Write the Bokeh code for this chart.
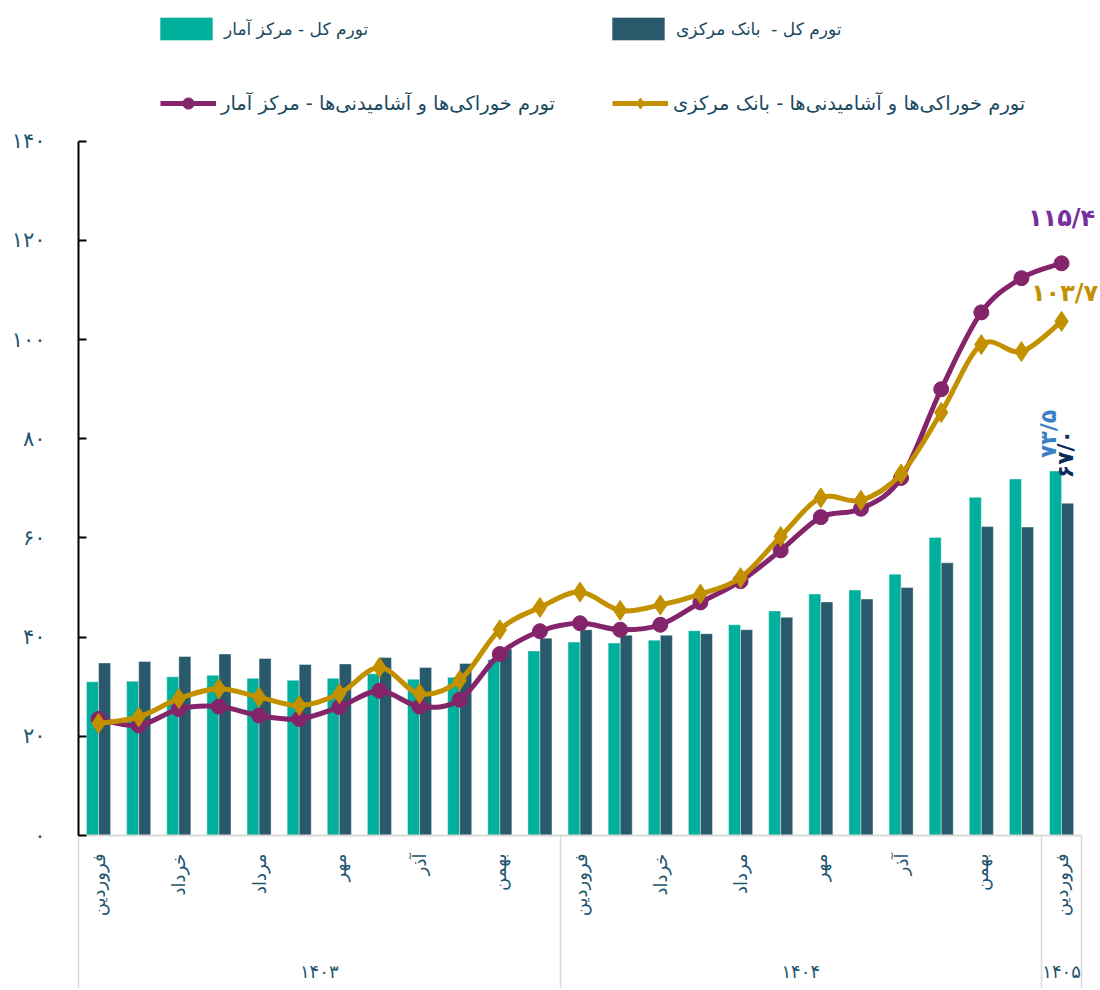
import math
from bokeh.plotting import figure
from bokeh.models import (FixedTicker, LinearAxis, Range1d, Legend, LegendItem,
                          Label, ColumnDataSource)
from bokeh.transform import dodge
from bokeh.embed import file_html
from bokeh.resources import INLINE

# ---------------- data ----------------
month_names = ["فروردین", "اردیبهشت", "خرداد", "تیر", "مرداد", "شهریور",
               "مهر", "آبان", "آذر", "دی", "بهمن", "اسفند"]
years = ["۱۴۰۳", "۱۴۰۴", "۱۴۰۵"]
months_per_year = [12, 12, 1]

# total inflation (bars)
total_sci = [31.0, 31.1, 32.0, 32.3, 31.7, 31.3, 31.7, 32.6, 31.5, 31.9, 35.5, 37.2,
             39.0, 38.8, 39.4, 41.3, 42.5, 45.3, 48.7, 49.5, 52.7, 60.1, 68.2, 71.9, 73.5]
total_cbi = [34.8, 35.1, 36.1, 36.6, 35.7, 34.5, 34.6, 35.9, 33.9, 34.7, 37.6, 39.8,
             41.5, 40.4, 40.4, 40.7, 41.5, 44.0, 47.1, 47.7, 50.0, 55.0, 62.3, 62.2, 67.0]
# food & beverages inflation (lines)
food_sci = [23.5, 22.2, 25.5, 26.0, 24.2, 23.5, 25.9, 29.2, 26.0, 27.4, 36.6, 41.2,
            42.8, 41.5, 42.5, 47.0, 51.3, 57.5, 64.2, 65.9, 72.1, 90.0, 105.5, 112.4, 115.4]
food_cbi = [22.6, 23.9, 27.6, 29.6, 27.9, 26.2, 28.6, 33.9, 28.6, 31.3, 41.5, 46.0,
            49.1, 45.4, 46.5, 48.7, 52.0, 60.3, 68.1, 67.6, 72.9, 85.3, 99.0, 97.6, 103.7]

y_ticks = [0, 20, 40, 60, 80, 100, 120, 140]

name_sci_total = "تورم کل - مرکز آمار"
name_cbi_total = "تورم کل -  بانک مرکزی"
name_sci_food = "تورم خوراکی\u200cها و آشامیدنی\u200cها - مرکز آمار"
name_cbi_food = "تورم خوراکی\u200cها و آشامیدنی\u200cها - بانک مرکزی"

# ---------------- helpers ----------------
FA = str.maketrans("0123456789.", "۰۱۲۳۴۵۶۷۸۹/")


def to_fa(s):
    return str(s).translate(FA)


n = len(total_sci)
idx = list(range(n))
period_month = []
for cnt in months_per_year:
    period_month += month_names[:cnt]

FONT = "DejaVu Sans"
TXT = "#1b4a60"
AXT = "#1e5470"
TEAL = "#00b09c"
SLATE = "#285a6b"
PURPLE = "#84256b"
GOLD = "#c39100"
GRAYL = "#d9d9d9"


def bezier_source(ys):
    xs = idx
    d = dict(x0=[], y0=[], x1=[], y1=[], cx0=[], cy0=[], cx1=[], cy1=[])
    for i in range(n - 1):
        a, b = max(i - 1, 0), min(i + 2, n - 1)
        d["x0"].append(xs[i]); d["y0"].append(ys[i])
        d["x1"].append(xs[i + 1]); d["y1"].append(ys[i + 1])
        d["cx0"].append(xs[i] + (xs[i + 1] - xs[a]) / 6)
        d["cy0"].append(ys[i] + (ys[i + 1] - ys[a]) / 6)
        d["cx1"].append(xs[i + 1] - (xs[b] - xs[i]) / 6)
        d["cy1"].append(ys[i + 1] - (ys[b] - ys[i]) / 6)
    return ColumnDataSource(d)


# ---------------- figure ----------------
# frame spans the legend strip too; the value axis itself stops at 140
p = figure(width=1100, height=988, output_backend="svg", toolbar_location=None,
           x_range=Range1d(-0.5, 24.97), y_range=Range1d(0, 168.4),
           min_border_left=78, min_border_right=0, min_border_top=0,
           min_border_bottom=153)
p.outline_line_color = None
p.grid.visible = False
p.background_fill_color = "white"

src = ColumnDataSource(dict(idx=idx, sci=total_sci, cbi=total_cbi))
r_sci = p.vbar(x=dodge("idx", -0.15, range=p.x_range), top="sci", width=0.3, source=src,
               fill_color=TEAL, line_color="white", line_alpha=0.4, line_width=1)
r_cbi = p.vbar(x=dodge("idx", 0.15, range=p.x_range), top="cbi", width=0.3, source=src,
               fill_color=SLATE, line_color="white", line_alpha=0.4, line_width=1)

bp = p.bezier(x0="x0", y0="y0", x1="x1", y1="y1", cx0="cx0", cy0="cy0", cx1="cx1", cy1="cy1",
              source=bezier_source(food_sci), line_color=PURPLE, line_width=5)
sp = p.scatter(idx, food_sci, marker="circle", size=15, fill_color=PURPLE, line_color=PURPLE)
bg = p.bezier(x0="x0", y0="y0", x1="x1", y1="y1", cx0="cx0", cy0="cy0", cx1="cx1", cy1="cy1",
              source=bezier_source(food_cbi), line_color=GOLD, line_width=5)
sg = p.scatter(idx, food_cbi, marker="diamond", size=20, fill_color=GOLD, line_color=GOLD)

# ---------------- axes ----------------
ya = p.yaxis[0]
ya.bounds = (y_ticks[0], y_ticks[-1])
ya.ticker = FixedTicker(ticks=y_ticks)
ya.major_label_overrides = {t: to_fa(t) for t in y_ticks}
ya.axis_line_color = "black"
ya.axis_line_width = 2
ya.major_tick_in = 8
ya.major_tick_out = 0
ya.major_tick_line_color = "black"
ya.major_tick_line_width = 2
ya.minor_tick_line_color = None
ya.major_label_standoff = 33
ya.major_label_text_font = FONT
ya.major_label_text_font_size = "21px"
ya.major_label_text_color = AXT

label_idx = list(range(0, n, 2))
bounds = [-0.5]
c = -0.5
centers = []
for cnt in months_per_year:
    centers.append(c + cnt / 2)
    c += cnt
    bounds.append(c)

xa = p.xaxis[0]
xa.bounds = (bounds[0], bounds[-1])
xa.ticker = FixedTicker(ticks=label_idx, minor_ticks=[])
xa.major_label_overrides = {i: period_month[i] for i in label_idx}
xa.major_label_orientation = math.pi / 2
xa.major_label_standoff = 12
xa.major_label_text_font = FONT
xa.major_label_text_font_size = "18px"
xa.major_label_text_color = AXT
xa.axis_line_color = GRAYL
xa.axis_line_width = 2
xa.major_tick_line_color = None
xa.minor_tick_line_color = None

yr = LinearAxis(ticker=FixedTicker(ticks=centers, minor_ticks=bounds),
                major_label_overrides={c: y for c, y in zip(centers, years)},
                axis_line_color=None, major_tick_line_color=None,
                minor_tick_in=84, minor_tick_out=73,
                minor_tick_line_color=GRAYL, minor_tick_line_width=1.5,
                major_label_standoff=-32, major_label_text_font=FONT,
                major_label_text_font_size="18px", major_label_text_color=AXT)
p.add_layout(yr, "below")

# ---------------- legends ----------------
common = dict(orientation="horizontal", border_line_color=None, background_fill_alpha=0,
              padding=0, margin=0, label_standoff=5, label_text_font=FONT,
              label_text_color=TXT)
leg1 = Legend(items=[LegendItem(label=name_sci_total, renderers=[r_sci]),
                     LegendItem(label=name_cbi_total, renderers=[r_cbi])],
              location=(75, 792), glyph_width=66, glyph_height=29,
              label_width=360, spacing=21, label_text_font_size="17px", **common)
leg2 = Legend(items=[LegendItem(label=name_sci_food, renderers=[bp, sp]),
                     LegendItem(label=name_cbi_food, renderers=[bg, sg])],
              location=(82, 718), glyph_width=56, glyph_height=28,
              label_width=370, spacing=21, label_text_font_size="19.5px", **common)
p.add_layout(leg1, "center")
p.add_layout(leg2, "center")

# ---------------- value labels ----------------
last = n - 1
p.add_layout(Label(x=last, y=food_sci[last], text=to_fa(food_sci[last]), text_align="center",
                   text_baseline="middle", y_offset=45, text_font=FONT, text_font_style="bold",
                   text_font_size="24px", text_color="#76309c"))
p.add_layout(Label(x=last, y=food_cbi[last], text=to_fa(food_cbi[last]), text_align="center",
                   text_baseline="middle", x_offset=3, y_offset=28, text_font=FONT,
                   text_font_style="bold", text_font_size="24px", text_color=GOLD))
p.add_layout(Label(x=last - 0.15, y=total_sci[last], text=to_fa(total_sci[last]), angle=math.pi / 2,
                   text_align="left", text_baseline="middle", x_offset=-7, y_offset=13,
                   text_font=FONT, text_font_style="bold", text_font_size="22px",
                   text_color="#3b7fc4"))
p.add_layout(Label(x=last + 0.15, y=total_cbi[last], text=to_fa(total_cbi[last]), angle=math.pi / 2,
                   text_align="left", text_baseline="middle", x_offset=-2, y_offset=25,
                   text_font=FONT, text_font_style="bold", text_font_size="22px",
                   text_color="#0d2a5c"))

open("out.html", "w").write(file_html(p, INLINE))
